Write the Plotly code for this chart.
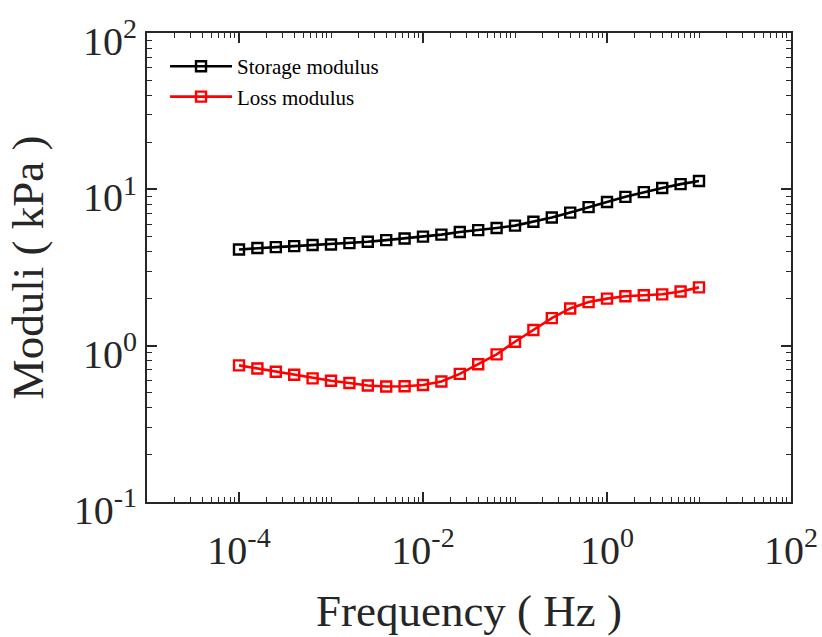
import plotly.graph_objects as go

# Data
log_freq = [-4 + 0.2 * i for i in range(26)]
freq = [10 ** v for v in log_freq]
storage = [4.12, 4.21, 4.27, 4.33, 4.40, 4.44, 4.53, 4.62, 4.73, 4.85, 4.98, 5.13,
           5.33, 5.48, 5.66, 5.86, 6.2, 6.6, 7.1, 7.7, 8.3, 8.95, 9.6, 10.2, 10.8, 11.3]
loss = [0.748, 0.715, 0.681, 0.652, 0.618, 0.597, 0.577, 0.556, 0.548, 0.550, 0.560, 0.590,
        0.66, 0.76, 0.88, 1.06, 1.26, 1.50, 1.73, 1.90, 2.00, 2.07, 2.10, 2.13, 2.22, 2.36]

x_major = [1e-4, 1e-2, 1e0, 1e2]
x_major_text = ["10<sup>-4</sup>", "10<sup>-2</sup>", "10<sup>0</sup>", "10<sup>2</sup>"]
y_major = [1e-1, 1e0, 1e1, 1e2]
y_major_text = ["10<sup>-1</sup>", "10<sup>0</sup>", "10<sup>1</sup>", "10<sup>2</sup>"]

x_minor = [k * 10.0 ** n for n in range(-5, 2) for k in range(1, 10) if not (k == 1 and n % 2 == 0)] + [1e-5]
y_minor = [k * 10.0 ** n for n in range(-1, 2) for k in range(2, 10)]

AX = "#262626"
FONT = "Liberation Serif"

fig = go.Figure()
fig.add_trace(go.Scatter(x=freq, y=storage, mode="lines+markers", name="Storage modulus",
                         line=dict(color="black", width=2.6),
                         marker=dict(symbol="square-open", size=10, color="black", line=dict(width=2.4))))
fig.add_trace(go.Scatter(x=freq, y=loss, mode="lines+markers", name="Loss modulus",
                         line=dict(color="red", width=2.6),
                         marker=dict(symbol="square-open", size=10, color="red", line=dict(width=2.4))))

fig.update_layout(
    width=822, height=637,
    margin=dict(l=147, r=31, t=33, b=135),
    paper_bgcolor="white", plot_bgcolor="white",
    font=dict(family=FONT, color=AX),
    showlegend=True,
    legend=dict(x=0.028, y=0.972, xanchor="left", yanchor="top", bgcolor="rgba(0,0,0,0)",
                font=dict(family=FONT, size=21, color="black"), itemwidth=62,
                tracegroupgap=0),
    xaxis=dict(type="log", range=[-5, 2], showgrid=False, zeroline=False, automargin=False,
               showline=True, linecolor=AX, linewidth=2, mirror="ticks",
               ticks="inside", ticklen=10, tickwidth=1.5, tickcolor=AX,
               tickmode="array", tickvals=x_major, ticktext=x_major_text,
               tickfont=dict(family=FONT, size=40, color=AX), ticklabelstandoff=12,
               minor=dict(ticks="inside", ticklen=5, tickwidth=1.2, tickcolor=AX,
                          tickmode="array", tickvals=x_minor),
               title=dict(text="Frequency ( Hz )", font=dict(family=FONT, size=45, color=AX), standoff=22)),
    yaxis=dict(type="log", range=[-1, 2], showgrid=False, zeroline=False, automargin=False,
               showline=True, linecolor=AX, linewidth=2, mirror="ticks",
               ticks="inside", ticklen=10, tickwidth=1.5, tickcolor=AX,
               tickmode="array", tickvals=y_major, ticktext=y_major_text,
               tickfont=dict(family=FONT, size=40, color=AX), ticklabelshift=8,
               minor=dict(ticks="inside", ticklen=5, tickwidth=1.2, tickcolor=AX,
                          tickmode="array", tickvals=y_minor),
               title=dict(text="Moduli ( kPa )", font=dict(family=FONT, size=45, color=AX), standoff=16)),
)

fig.write_html("out.html")
